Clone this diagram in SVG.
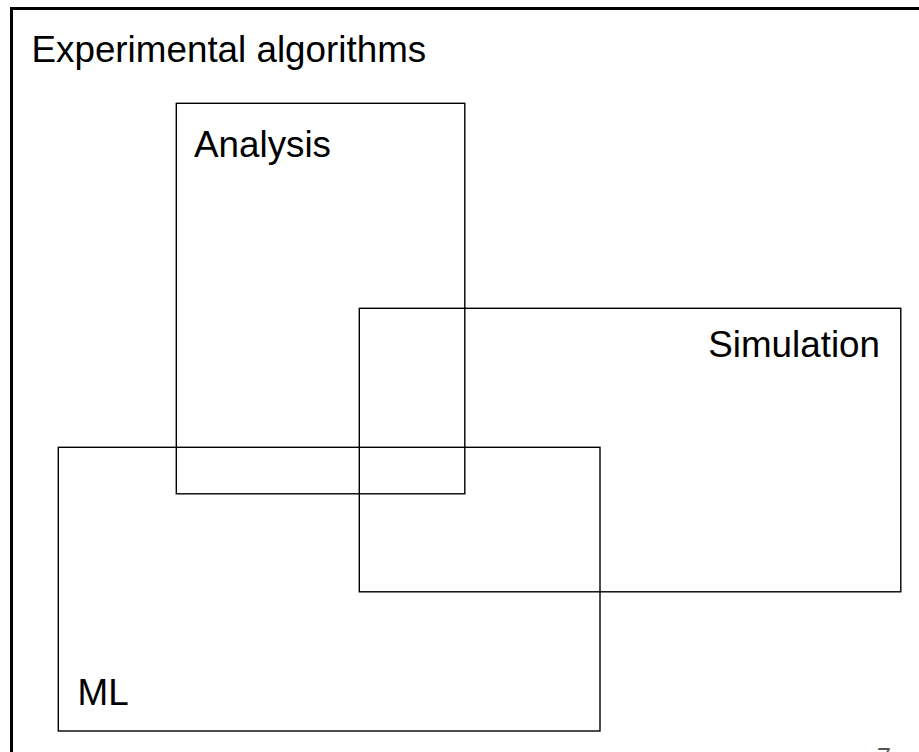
<svg xmlns="http://www.w3.org/2000/svg" width="919" height="752" viewBox="0 0 919 752">
<style>
.box{fill:none;stroke:#000;stroke-width:1.4}
.lbl{font-family:"Liberation Sans",Arial,sans-serif;font-size:36.8px;fill:#000}
</style>
<rect x="0" y="0" width="919" height="752" fill="#fff"/>
<g id="frame">
<rect x="11.5" y="8.5" width="940" height="780" fill="none" stroke="#000" stroke-width="3"/>
<text class="lbl" x="31.5" y="62">Experimental algorithms</text>
</g>
<g id="analysis">
<rect class="box" x="176.3" y="103.3" width="288.5" height="390.5"/>
<text class="lbl" x="194" y="156.7">Analysis</text>
</g>
<g id="simulation">
<rect class="box" x="359.3" y="308.3" width="541.5" height="283.5"/>
<text class="lbl" x="880" y="356.7" text-anchor="end">Simulation</text>
</g>
<g id="ml">
<rect class="box" x="58.3" y="447.3" width="541.7" height="283.7"/>
<text class="lbl" x="77.5" y="705">ML</text>
</g>
<g id="connectors"/>
<text x="877" y="766" font-family="Liberation Sans,Arial,sans-serif" font-size="25" fill="#555">7</text>
</svg>
